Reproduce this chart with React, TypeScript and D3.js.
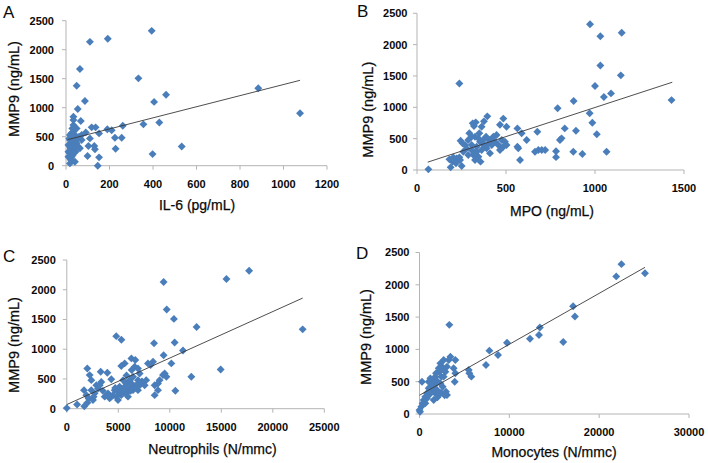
import React from "react";
import * as d3 from "d3";

// ---------- DATA ----------
const mmpTicks = [0, 500, 1000, 1500, 2000, 2500];

const il6Ticks = [0, 200, 400, 600, 800, 1000, 1200];
const il6X = [394,192,110,64,49,333,87,405,460,884,1076,54,34,34,68,34,29,356,429,261,118,136,190,210,152,91,72,110,225,256,41,49,18,18,26,18,34,18,26,23,18,41,44,49,57,64,72,60,41,11,11,11,34,49,41,103,130,133,99,152,146,228,532,398,28,36,22,30,15,38,25,44,30,20];
const il6Y = [2325,2190,2135,1667,1379,1506,1116,1100,1222,1334,903,978,844,787,770,700,643,713,745,690,661,661,628,612,557,574,529,471,483,483,529,471,529,443,385,328,270,213,155,98,40,69,241,385,328,299,443,500,328,356,241,155,586,643,443,339,339,282,167,144,0,293,330,200,420,360,300,500,470,620,560,410,180,120];
const il6Trend = [[8, 450], [1076, 1472]];

const mpoTicks = [0, 500, 1000, 1500];
const mpoX = [972,1030,1150,1030,1145,1000,1090,1050,1430,880,790,970,985,1010,1065,238,64,189,182,204,223,242,251,200,219,238,245,256,294,313,320,363,376,395,330,466,485,503,279,288,307,326,345,354,373,335,317,326,345,363,391,410,429,438,457,466,485,494,503,288,270,260,307,388,410,447,476,307,350,401,420,373,335,357,564,588,616,564,569,579,676,682,663,701,720,781,781,803,812,830,878,893,929];
const mpoY = [2325,2135,2190,1667,1510,1340,1222,1166,1115,1100,984,905,755,570,290,1380,10,42,170,202,186,160,64,133,106,202,468,425,585,744,701,691,776,856,760,723,820,691,345,239,319,531,505,452,399,372,239,160,213,319,346,266,531,452,399,319,372,452,399,478,399,292,399,531,478,558,478,531,585,425,399,478,292,133,664,585,478,372,346,160,611,319,292,319,319,300,205,478,505,664,292,627,255];
const mpoTrend = [[60, 125], [1434, 1400]];

const neuTicks = [0, 5000, 10000, 15000, 20000, 25000];
const neuX = [0,1000,1700,1670,1990,2220,2380,1900,2120,2380,2540,2700,3030,3290,3350,3190,2870,3935,3680,4160,4320,4000,4490,4810,4970,4800,5300,5290,5620,5460,5780,6100,6270,6650,6590,6910,7070,6430,6750,5940,5130,5460,5620,6100,6430,6910,7230,7560,6910,7070,6270,4650,4320,4970,5290,5780,5940,7880,8140,8370,8470,7710,8530,8530,8850,9010,8850,9500,9670,9340,10150,10470,10540,11280,12090,14940,9400,15500,17700,9700,10400,12600,22900,9400,2000,2600,3500,5800,6300,7300,6600,5600,4700,6200];
const neuY = [10,70,40,312,677,565,480,228,172,312,146,258,340,620,450,395,395,604,203,175,494,258,228,203,284,1220,1160,718,762,480,424,480,846,818,706,677,593,537,395,340,368,312,368,340,312,480,424,395,312,395,424,312,203,146,228,258,203,762,734,790,1100,480,228,395,424,480,312,593,537,565,762,1113,301,978,537,660,2130,2180,2320,1667,1510,1374,1334,900,100,200,300,560,650,460,380,280,350,300];
const neuTrend = [[0, 70], [22900, 1860]];

const monTicks = [0, 10000, 20000, 30000];
const monX = [3320,0,60,200,350,465,650,835,280,1020,1210,1390,1580,1760,1840,1020,1210,1390,1580,835,650,2140,2320,2690,2510,2880,3250,3440,3990,3800,3060,2690,2320,1950,2140,2580,2950,3060,1760,2430,3920,3990,5480,5550,5770,7400,7780,8740,9740,22480,21900,25100,17100,17300,13400,13300,12300,16000,1500,1700,1100,1900,2200,2600,1300,900,2000,2400,2800];
const monY = [1380,60,36,114,165,217,268,320,500,397,423,475,526,578,630,500,552,346,217,243,165,707,784,836,733,655,836,887,836,707,733,578,475,372,294,423,346,294,320,578,500,630,682,630,578,758,981,913,1104,2320,2130,2180,1667,1510,1340,1224,1166,1115,400,450,300,520,650,700,350,280,260,330,290];
const monTrend = [[0, 290], [25100, 2270]];

// ---------- LAYOUT ----------
type Panel = {
  letter: string; lx: number; ly: number;
  xs: number[]; ys: number[]; trend: number[][];
  xTicks: number[]; xDomain: [number, number]; xRange: [number, number];
  yRange: [number, number]; yGap: number;
  xTitle: string; xtx: number; xty: number; ytx: number; yty: number;
};

const panels: Panel[] = [
  { letter: "A", lx: 3, ly: 18, xs: il6X, ys: il6Y, trend: il6Trend, xTicks: il6Ticks, xDomain: [0, 1200], xRange: [66, 327], yRange: [165.7, 20.7], yGap: 12, xTitle: "IL-6 (pg/mL)", xtx: 197, xty: 204.7, ytx: 14, yty: 89 },
  { letter: "B", lx: 357, ly: 17, xs: mpoX, ys: mpoY, trend: mpoTrend, xTicks: mpoTicks, xDomain: [0, 1500], xRange: [417, 684], yRange: [170, 13.3], yGap: 9.5, xTitle: "MPO (ng/mL)", xtx: 552, xty: 210.7, ytx: 368, yty: 109.7 },
  { letter: "C", lx: 3, ly: 262, xs: neuX, ys: neuY, trend: neuTrend, xTicks: neuTicks, xDomain: [0, 25000], xRange: [66.8, 324.3], yRange: [408.7, 260], yGap: 11, xTitle: "Neutrophils (N/mmc)", xtx: 212.5, xty: 448.5, ytx: 13.5, yty: 345 },
  { letter: "D", lx: 356, ly: 259, xs: monX, ys: monY, trend: monTrend, xTicks: monTicks, xDomain: [0, 30000], xRange: [419.5, 689], yRange: [414, 252.5], yGap: 10, xTitle: "Monocytes (N/mmc)", xtx: 554, xty: 451.7, ytx: 366, yty: 337 },
];

const FONT = "'Liberation Sans', Arial, sans-serif";
const AXIS = "#b4b4b4";
const MARK = "#4a7ebb";
const TXT = "#0a0a0a";
const diamond = d3.symbol().type(d3.symbolDiamond2).size(40)();

function PanelView({ p }: { p: Panel }) {
  const x = d3.scaleLinear().domain(p.xDomain).range(p.xRange);
  const y = d3.scaleLinear().domain([0, 2500]).range(p.yRange);
  const line = d3.line<number[]>().x((d) => x(d[0])).y((d) => y(d[1]));
  const x0 = p.xRange[0];
  const y0 = p.yRange[0];
  return (
    <g>
      <text x={p.lx} y={p.ly} fontSize={17} fontFamily={FONT} fill={TXT}>{p.letter}</text>
      <line x1={x0} x2={x0} y1={y(0)} y2={y(2500)} stroke={AXIS} strokeWidth={1} />
      {mmpTicks.map((t) => (
        <g key={"y" + t}>
          <line x1={x0 - 4} x2={x0} y1={y(t)} y2={y(t)} stroke={AXIS} />
          <text x={x0 - p.yGap} y={y(t)} dy="0.36em" textAnchor="end" fontSize={11} fontWeight="bold" fontFamily={FONT} fill={TXT}>{t}</text>
        </g>
      ))}
      <line x1={x(p.xDomain[0])} x2={x(p.xDomain[1])} y1={y0} y2={y0} stroke={AXIS} strokeWidth={1} />
      {p.xTicks.map((t) => (
        <g key={"x" + t}>
          <line x1={x(t)} x2={x(t)} y1={y0} y2={y0 + 4} stroke={AXIS} />
          <text x={x(t)} y={y0 + 22} textAnchor="middle" fontSize={11} fontWeight="bold" fontFamily={FONT} fill={TXT}>{t}</text>
        </g>
      ))}
      <text x={p.xtx} y={p.xty} dy="0.36em" textAnchor="middle" fontSize={14} fontFamily={FONT} fill={TXT} stroke={TXT} strokeWidth={0.25}>{p.xTitle}</text>
      <text transform={`translate(${p.ytx},${p.yty}) rotate(-90)`} dy="0.36em" textAnchor="middle" fontSize={14.5} fontFamily={FONT} fill={TXT} stroke={TXT} strokeWidth={0.25}>MMP9 (ng/mL)</text>
      {p.xs.map((v, i) => (
        <path key={i} d={diamond || ""} transform={`translate(${x(v)},${y(p.ys[i])})`} fill={MARK} />
      ))}
      <path d={line(p.trend) || ""} stroke="#3a3a3a" strokeWidth={0.9} fill="none" />
    </g>
  );
}

export default function App() {
  return (
    <svg width={708} height={463} style={{ position: "absolute", left: 0, top: 0, background: "#fff" }}>
      <rect width={708} height={463} fill="#fff" />
      {panels.map((p) => <PanelView key={p.letter} p={p} />)}
    </svg>
  );
}
